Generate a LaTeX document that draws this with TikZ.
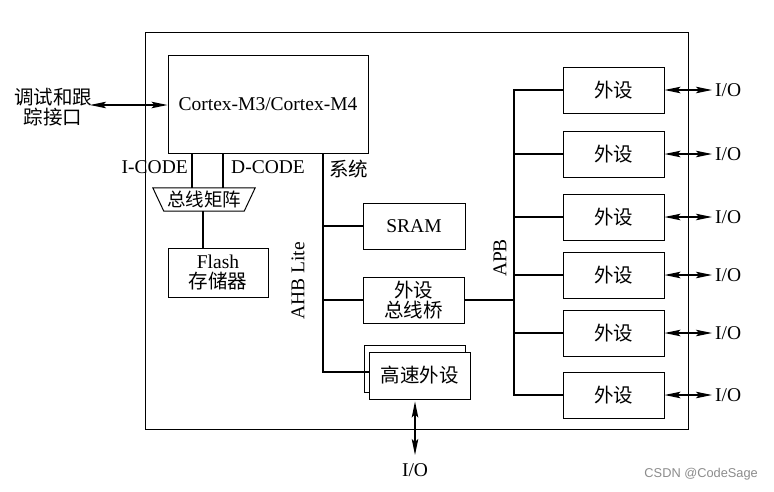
\documentclass[tikz,border=0pt]{standalone}
\usepackage{fontspec}
\setmainfont{Liberation Serif}
\newfontfamily\cjk{Noto Sans CJK SC}
\newfontfamily\wmfont{Liberation Sans}
\usetikzlibrary{arrows.meta}
\newcommand\fs{\fontsize{19.5}{20.5}\selectfont}
\tikzset{
  box/.style={draw, line width=1pt, fill=white, minimum width=101pt, minimum height=46pt, inner sep=0pt, align=center, font=\fs},
  bus/.style={line width=2pt},
  io/.style={line width=1.2pt, {Stealth[length=16pt,width=6.5pt,inset=3pt]}-{Stealth[length=16pt,width=6.5pt,inset=3pt]}},
  lbl/.style={inner sep=0pt, font=\fs}
}
\begin{document}
\begin{tikzpicture}[x=1pt,y=-1pt]
\useasboundingbox (0,0) rectangle (774,491);
\fill[white] (0,0) rectangle (774,491);
% outer frame
\node[draw, line width=1pt, minimum width=543pt, minimum height=397pt, inner sep=0pt] (outer) at (416.5,230.5) {};
% core
\node[box, minimum width=200pt, minimum height=98pt] (cortex) at (268,104) {Cortex-M3/Cortex-M4};
\node[lbl, font=\fs\cjk, align=center] (dbg) at (53,107) {调试和跟\\踪接口};
\coordinate (dbgend) at (90,105);
\draw[io] (dbgend) -- (cortex.west |- dbgend);
% bus matrix
\node[lbl, minimum width=80pt, minimum height=23pt, font=\fontsize{18.5}{19}\selectfont\cjk] (bm) at (204,199.5) {总线矩阵};
\draw[line width=1pt] ([xshift=-11pt]bm.north west) -- ([xshift=11pt]bm.north east) -- (bm.south east) -- (bm.south west) -- cycle;
\coordinate (icx) at (192,0);
\coordinate (dcx) at (223,0);
\draw[bus] (cortex.south -| icx) -- (bm.north -| icx);
\draw[bus] (cortex.south -| dcx) -- (bm.north -| dcx);
\node[lbl, anchor=east] (icode) at (188,167) {I-CODE};
\node[lbl, anchor=west] (dcode) at (231,167) {D-CODE};
\node[lbl, anchor=west, font=\fs\cjk] (sys) at (329,169) {系统};
% flash
\node[box, minimum width=100pt, minimum height=49pt] (flash) at (218,272.5) {Flash\\{\cjk 存储器}};
\coordinate (bmx) at (203,0);
\draw[bus] (bm.south -| bmx) -- (flash.north -| bmx);
% AHB devices
\node[box, minimum width=102pt] (sram) at (414,226) {SRAM};
\node[box] (bridge) at (413.5,300) {{\cjk 外设}\\{\cjk 总线桥}};
\node[box, minimum height=47pt] (hsback) at (414.5,368.5) {};
\node[box, minimum height=47pt, font=\fs\cjk] (hs) at (419.5,375.5) {高速外设};
\coordinate (ahb) at (323,0);
\coordinate (hsl) at ([yshift=4pt]hs.west);
\draw[bus] (cortex.south -| ahb) -- (ahb |- hsl) -- (hsl);
\draw[bus] (ahb |- sram.west) -- (sram.west);
\draw[bus] (ahb |- bridge.west) -- (bridge.west);
\node[lbl, rotate=90] (ahblbl) at (298,281) {AHB Lite};
% bottom I/O
\coordinate (hsio) at ([xshift=-4.5pt]hs.south);
\coordinate (hsioend) at (415,455);
\draw[io] ([yshift=-2pt]hsio) -- (hsioend);
\node[lbl] (hsiot) at (415,470) {I/O};
% APB
\coordinate (apb) at (514,0);
\node[lbl, rotate=90] (apblbl) at (500,258) {APB};
\foreach \i/\yy in {1/90,2/154,3/217,4/275,5/333,6/395} {
  \node[box, font=\fs\cjk] (p\i) at (613.5,\yy) {外设};
  \coordinate (io\i) at (712,\yy);
  \draw[io] (p\i.east) -- (io\i);
  \node[lbl, anchor=west] (iot\i) at (715,\yy) {I/O};
}
\draw[bus] (p1.west) -| (apb |- p6.west) -- (p6.west);
\foreach \i in {2,3,4,5} { \draw[bus] (apb |- p\i.west) -- (p\i.west); }
\draw[bus] (bridge.east) -- (apb |- bridge.east);
% watermark
\node[inner sep=0pt, anchor=east, text=black!45, font=\fontsize{12.8}{13}\selectfont\wmfont] (wm) at (758,474) {CSDN @CodeSage};
\end{tikzpicture}
\end{document}
